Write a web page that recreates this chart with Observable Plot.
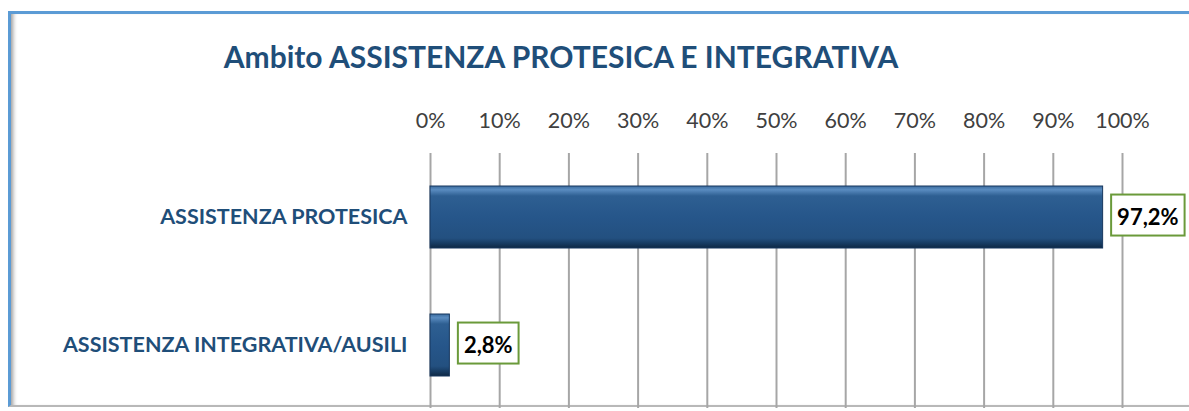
<!DOCTYPE html>
<html>
<head>
<meta charset="utf-8">
<script src="https://cdn.jsdelivr.net/npm/d3@7"></script>
<script src="https://cdn.jsdelivr.net/npm/@observablehq/plot@0.6"></script>
<style>
  html, body { margin: 0; padding: 0; background: #fff; width: 1189px; height: 411px; overflow: hidden; }
  #frame { position: absolute; left: 8px; top: 11px; width: 1200px; height: 396px;
    border-top: 3px solid #5b9bd5; border-left: 3px solid #5b9bd5; border-bottom: 2px solid #b8b8b8;
    box-shadow: inset 5px 0 4px -3px #9a9a9a; box-sizing: border-box; }
  #title { position: absolute; left: 0; top: 41px; width: 1122px; text-align: center;
    font-family: Lato, sans-serif; font-weight: 700; font-size: 30px; line-height: 30px; color: #1f4e79; }
  #chart { position: absolute; left: 0; top: 90px; }
</style>
</head>
<body>
<div id="frame"></div>
<div id="title">Ambito ASSISTENZA PROTESICA E INTEGRATIVA</div>
<div id="chart"></div>
<script>
const categories = ["ASSISTENZA PROTESICA", "ASSISTENZA INTEGRATIVA/AUSILI"];
const values = [0.972, 0.028];
const valueLabels = ["97,2%", "2,8%"];
const xTicks = [0, 0.1, 0.2, 0.3, 0.4, 0.5, 0.6, 0.7, 0.8, 0.9, 1.0];

const data = categories.map((c, i) => ({category: c, value: values[i], label: valueLabels[i]}));

const defs = () => {
  const ns = "http://www.w3.org/2000/svg";
  const d = document.createElementNS(ns, "defs");
  d.innerHTML = `
    <linearGradient id="barGrad" x1="0" y1="0" x2="0" y2="1">
      <stop offset="0" stop-color="#3b6c9f"/>
      <stop offset="0.06" stop-color="#5a8cc0"/>
      <stop offset="0.16" stop-color="#2e5f92"/>
      <stop offset="0.5" stop-color="#26568a"/>
      <stop offset="0.84" stop-color="#235080"/>
      <stop offset="0.93" stop-color="#163a60"/>
      <stop offset="1" stop-color="#0e2844"/>
    </linearGradient>`;
  return d;
};

const plot = Plot.plot({
  width: 1189,
  height: 321,
  marginLeft: 430,
  marginRight: 67,
  marginTop: 63,
  marginBottom: 3,
  style: {fontFamily: "Lato, sans-serif", background: "transparent", overflow: "visible"},
  x: {domain: [0, 1], axis: null, label: null},
  y: {domain: categories, paddingInner: 0.516, paddingOuter: 0.254, axis: null, label: null},
  marks: [
    defs,
    Plot.gridX(xTicks, {stroke: "#a6a6a6", strokeOpacity: 1, strokeWidth: 2}),
    Plot.axisX(xTicks, {anchor: "top", tickSize: 0, tickPadding: 26, fontSize: 21.5, label: null,
      tickFormat: d => Math.round(d * 100) + "%", fill: "#404040", color: "#404040"}),
    Plot.axisY({anchor: "left", tickSize: 0, tickPadding: 23, fontSize: 21.5, fontWeight: 700, label: null,
      fill: "#1f4e79", color: "#1f4e79"}),
    Plot.barX(data, {x: "value", y: "category", fill: "url(#barGrad)", stroke: "#17375e", strokeWidth: 1}),
    Plot.text(data, {x: "value", y: "category", text: "label", textAnchor: "start", dx: 14,
      fontSize: 22, fontWeight: 700, fill: "#000", className: "vlabel"})
  ]
});
document.getElementById("chart").appendChild(plot);

// white boxes with green border behind the value labels
plot.querySelectorAll("g.vlabel text, .vlabel text").forEach(t => {
  const b = t.getBBox();
  const ns = "http://www.w3.org/2000/svg";
  const r = document.createElementNS(ns, "rect");
  r.setAttribute("x", b.x - 6);
  r.setAttribute("y", b.y - 8);
  r.setAttribute("width", b.width + 12);
  r.setAttribute("height", b.height + 14);
  r.setAttribute("fill", "#fff");
  r.setAttribute("stroke", "#6a9a3a");
  r.setAttribute("stroke-width", 2);
  if (t.getAttribute("transform")) r.setAttribute("transform", t.getAttribute("transform"));
  t.parentNode.insertBefore(r, t);
});
</script>
</body>
</html>
